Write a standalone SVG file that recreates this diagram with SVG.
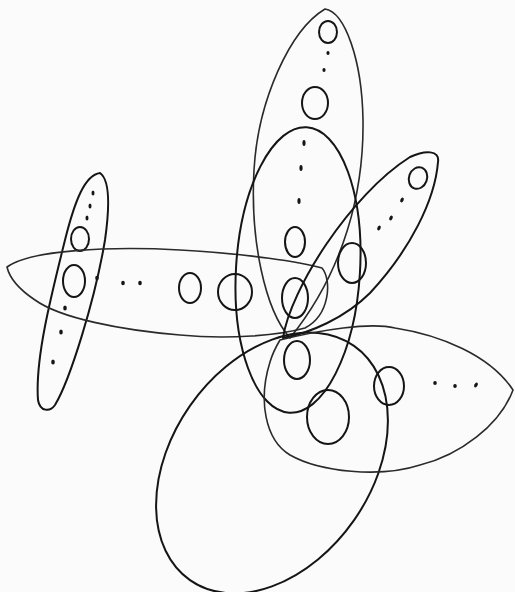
<svg xmlns="http://www.w3.org/2000/svg" width="515" height="592" viewBox="0 0 515 592">
<style>
.s{fill:none;stroke:#151515;stroke-width:2;stroke-linecap:round;stroke-linejoin:round}
.t{fill:none;stroke:#2a2a2a;stroke-width:1.6;stroke-linecap:round;stroke-linejoin:round}
.d{fill:#151515}
</style>
<rect width="515" height="592" fill="#fbfbfb"/>
<g id="left-leaf">
<path class="s" d="M100,173 C85,175 75,200 65,240 C50,300 35,360 38,400 C40,412 50,412 55,405 C70,380 95,300 105,240 C110,205 110,180 100,173"/>
<ellipse class="s" cx="80" cy="239" rx="9" ry="12"/>
<ellipse class="s" cx="74" cy="281" rx="11" ry="16"/>
<ellipse class="d" cx="93" cy="193" rx="1.5" ry="2.5"/>
<ellipse class="d" cx="90" cy="206" rx="1.5" ry="2.5"/>
<ellipse class="d" cx="87" cy="218" rx="1.5" ry="2.5"/>
<ellipse class="d" cx="65" cy="308" rx="1.8" ry="2.5"/>
<ellipse class="d" cx="61" cy="332" rx="1.8" ry="2.5"/>
<ellipse class="d" cx="53" cy="362" rx="1.8" ry="2.5"/>
</g>
<g id="horizontal-leaf">
<path class="t" d="M7,267 C30,250 110,246 180,250 C250,254 300,262 322,268 C332,280 330,315 305,328 C280,335 230,340 180,335 C120,330 60,318 35,300 C20,290 10,280 7,267 Z"/>
<ellipse class="d" cx="97" cy="278" rx="1.8" ry="2.2"/>
<ellipse class="d" cx="123" cy="283" rx="1.8" ry="2.2"/>
<ellipse class="d" cx="140" cy="283" rx="1.8" ry="2.2"/>
<ellipse class="s" cx="190" cy="288" rx="11" ry="15"/>
<ellipse class="s" cx="235" cy="292" rx="17" ry="18"/>
</g>
<g id="top-leaf">
<path class="t" d="M325,9 C345,12 362,60 363,120 C364,190 345,270 290,338 C265,310 250,240 254,170 C258,100 290,30 325,9 Z"/>
<ellipse class="s" cx="328" cy="32" rx="9" ry="11"/>
<ellipse class="d" cx="328" cy="53" rx="1.6" ry="2"/>
<ellipse class="d" cx="324" cy="70" rx="1.6" ry="2"/>
<ellipse class="s" cx="315" cy="103" rx="13" ry="16"/>
</g>
<g id="middle-ellipse">
<ellipse class="s" cx="298" cy="270" rx="62" ry="143" transform="rotate(3.5 298 270)"/>
<ellipse class="d" cx="304" cy="143" rx="1.6" ry="3"/>
<ellipse class="d" cx="301" cy="168" rx="1.6" ry="3"/>
<ellipse class="d" cx="299" cy="201" rx="1.6" ry="3"/>
<ellipse class="s" cx="295" cy="242" rx="10" ry="15"/>
<ellipse class="s" cx="295" cy="298" rx="13" ry="20"/>
</g>
<g id="diagonal-leaf">
<path class="s" d="M283,338 C290,290 350,195 410,157 C425,150 440,150 438,162 C435,200 410,250 370,293 C345,318 310,333 283,338 Z"/>
<ellipse class="s" cx="418" cy="178" rx="9" ry="11" transform="rotate(20 418 178)"/>
<ellipse class="d" cx="402" cy="200" rx="1.6" ry="2.6" transform="rotate(25 402 200)"/>
<ellipse class="d" cx="391" cy="218" rx="1.6" ry="2.6" transform="rotate(25 391 218)"/>
<ellipse class="d" cx="379" cy="228" rx="1.6" ry="2.6" transform="rotate(25 379 228)"/>
<ellipse class="s" cx="352" cy="263" rx="14" ry="20"/>
</g>
<g id="lower-ellipse">
<ellipse class="s" cx="272" cy="463" rx="143" ry="100" transform="rotate(-55 272 463)"/>
<ellipse class="s" cx="297" cy="360" rx="13" ry="19"/>
</g>
<g id="right-ellipse">
<path class="t" d="M280,340 C320,330 370,322 395,328 C440,335 490,355 513,390 C500,425 460,455 420,465 C380,478 320,472 290,455 C265,440 258,400 270,362 C273,352 277,345 280,340 Z"/>
<ellipse class="s" cx="328" cy="417" rx="21" ry="27"/>
<ellipse class="s" cx="389" cy="386" rx="15" ry="19"/>
<ellipse class="d" cx="435" cy="383" rx="1.8" ry="2"/>
<ellipse class="d" cx="455" cy="386" rx="1.8" ry="2"/>
<ellipse class="d" cx="476" cy="385" rx="1.6" ry="2.6" transform="rotate(30 476 385)"/>
</g>
<g id="connectors"/>
</svg>
